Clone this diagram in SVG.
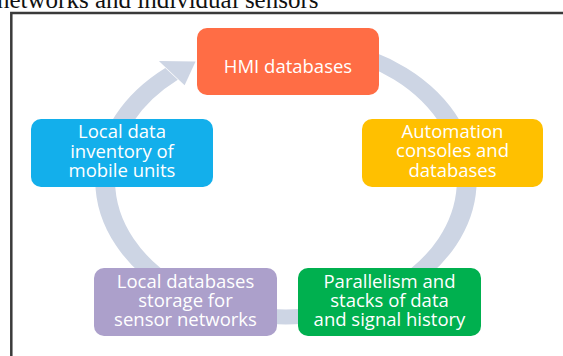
<svg xmlns="http://www.w3.org/2000/svg" width="563" height="356" viewBox="0 0 563 356">
<defs>
<style>
.box{stroke:none}
.lbl{font-family:"Open Sans","Noto Sans","Liberation Sans",sans-serif;font-size:18.5px;fill:#ffffff;text-anchor:middle}
.ring{fill:none;stroke:#CDD5E4;stroke-width:15}
.frame{stroke:#3a3a3a;stroke-width:2.5;fill:none}
</style>
</defs>
<rect width="563" height="356" fill="#ffffff"/>
<text x="-3" y="7.5" font-family="'Liberation Serif','Times New Roman',serif" font-size="25" fill="#111">networks and individual sensors</text>
<path class="frame" d="M11.3 356 V13 H563"/>
<g id="connectors">
<g transform="translate(286,180) scale(1.32,1)">
<path class="ring" d="M35.46 -132.33 A137 137 0 1 1 -86.7 -106.1"/>
<path d="M-96.3 -118.9 L-68.5 -118.6 L-76.8 -94.8 Z" fill="#CDD5E4"/>
</g>
</g>
<g id="hmi">
<rect class="box" x="197" y="28" width="182" height="67" rx="10" fill="#FF6D45"/>
<text class="lbl" x="288" y="73">HMI databases</text>
</g>
<g id="automation">
<rect class="box" x="362" y="119" width="181" height="68" rx="10" fill="#FFC000"/>
<text class="lbl" x="452.5" y="137.5">Automation</text>
<text class="lbl" x="452.5" y="157">consoles and</text>
<text class="lbl" x="452.5" y="176.5">databases</text>
</g>
<g id="parallelism">
<rect class="box" x="298" y="268" width="183" height="68" rx="10" fill="#00B04F"/>
<text class="lbl" x="389.5" y="287.5">Parallelism and</text>
<text class="lbl" x="389.5" y="307">stacks of data</text>
<text class="lbl" x="389.5" y="326">and signal history</text>
</g>
<g id="sensorstorage">
<rect class="box" x="94" y="268" width="183" height="68" rx="10" fill="#ACA0CB"/>
<text class="lbl" x="185.5" y="287.5">Local databases</text>
<text class="lbl" x="185.5" y="307">storage for</text>
<text class="lbl" x="185.5" y="326">sensor networks</text>
</g>
<g id="mobileunits">
<rect class="box" x="31" y="119" width="182" height="68" rx="10" fill="#13AFEB"/>
<text class="lbl" x="122" y="138">Local data</text>
<text class="lbl" x="122" y="157.5">inventory of</text>
<text class="lbl" x="122" y="177">mobile units</text>
</g>
</svg>
